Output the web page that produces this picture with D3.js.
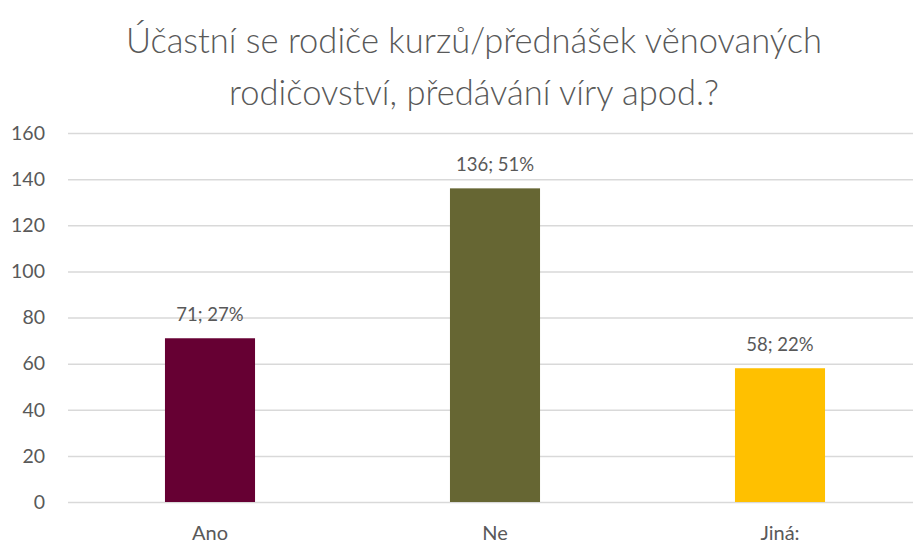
<!DOCTYPE html>
<html>
<head>
<meta charset="utf-8">
<script src="https://cdn.jsdelivr.net/npm/d3@7"></script>
<style>
body { margin: 0; background: #fff; }
svg text { font-family: Lato, "Open Sans", sans-serif; fill: #595959; }
</style>
</head>
<body>
<svg></svg>
<script>
var categories = ["Ano", "Ne", "Jiná:"];
var values = [71, 136, 58];
var percents = ["27%", "51%", "22%"];
var colors = ["#660033", "#666633", "#FFC000"];
var yTicks = [0, 20, 40, 60, 80, 100, 120, 140, 160];
var titleLines = ["Účastní se rodiče kurzů/přednášek věnovaných", "rodičovství, předávání víry apod.?"];

var width = 913,
    height = 545;

var svg = d3.select("svg")
    .attr("width", width)
    .attr("height", height);

var x = d3.scaleBand()
    .domain(categories)
    .range([67.5, 922.5])
    .paddingInner(0.684)
    .paddingOuter(0.342);

var y = d3.scaleLinear()
    .domain([0, 160])
    .range([502, 133]);

// title
svg.selectAll(".title")
    .data(titleLines)
    .enter().append("text")
    .attr("class", "title")
    .attr("x", 474)
    .attr("y", function(d, i) { return 53 + i * 52; })
    .attr("text-anchor", "middle")
    .style("font-size", "34.5px")
    .style("font-weight", 300)
    .text(function(d) { return d; });

// gridlines
svg.append("g")
    .attr("transform", "translate(68,0)")
    .call(d3.axisLeft(y).tickValues(yTicks).tickSize(-(width - 68)).tickFormat(""))
    .call(function(g) {
        g.select(".domain").remove();
        g.selectAll("line").attr("stroke", "#d9d9d9").attr("stroke-width", 1.5);
    });

// y labels
svg.append("g")
    .attr("transform", "translate(45,0)")
    .call(d3.axisLeft(y).tickValues(yTicks).tickSize(0).tickPadding(0))
    .call(function(g) {
        g.select(".domain").remove();
        g.selectAll("text").style("font-size", "19.5px").attr("fill", "#595959");
    });

// bars
svg.selectAll(".bar")
    .data(values)
    .enter().append("rect")
    .attr("class", "bar")
    .attr("x", function(d, i) { return x(categories[i]); })
    .attr("y", function(d) { return y(d); })
    .attr("width", x.bandwidth())
    .attr("height", function(d) { return y(0) - y(d); })
    .attr("fill", function(d, i) { return colors[i]; });

// data labels
svg.selectAll(".lbl")
    .data(values)
    .enter().append("text")
    .attr("class", "lbl")
    .attr("x", function(d, i) { return x(categories[i]) + x.bandwidth() / 2; })
    .attr("y", function(d) { return y(d) - 17; })
    .attr("text-anchor", "middle")
    .style("font-size", "18.5px")
    .text(function(d, i) { return d + "; " + percents[i]; });

// x labels
svg.append("g")
    .attr("transform", "translate(0,502)")
    .call(d3.axisBottom(x).tickSize(0).tickPadding(24))
    .call(function(g) {
        g.select(".domain").remove();
        g.selectAll("text").style("font-size", "20px").attr("fill", "#595959");
    });
</script>
</body>
</html>
